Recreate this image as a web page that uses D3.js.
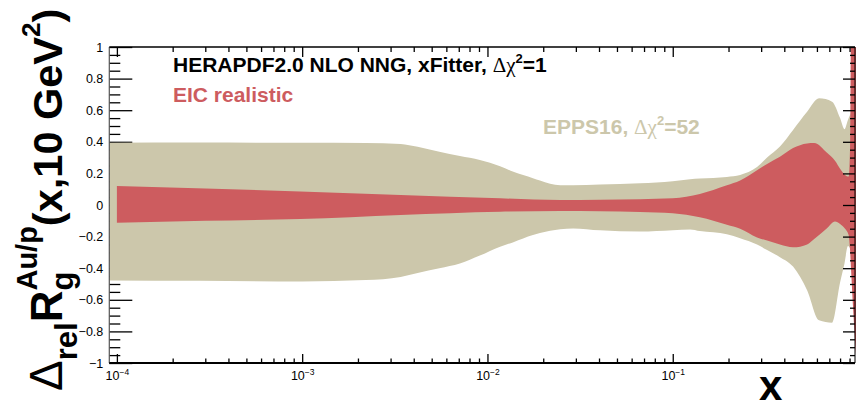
<!DOCTYPE html>
<html><head><meta charset="utf-8">
<script src="https://cdn.jsdelivr.net/npm/d3@7"></script>
<style>
html,body{margin:0;padding:0;background:#fff;}
svg{display:block;font-family:"Liberation Sans",Arial,sans-serif;}
</style></head>
<body>
<svg id="c" width="856" height="405"></svg>
<script>
// ---------------- data ----------------
const eppsX  = [9.0e-5, 2.8e-4, 1.0e-3, 2.2e-3, 3.4e-3, 4.2e-3, 5.5e-3, 7.1e-3, 9.1e-3, 0.0117, 0.0138, 0.0176, 0.0192, 0.0247, 0.029, 0.0405, 0.0666, 0.100, 0.124, 0.140, 0.196, 0.231, 0.285, 0.323, 0.379, 0.446, 0.531, 0.616, 0.724, 0.800, 0.845, 0.883, 0.928, 0.965];
const eppsLo = [-0.478,-0.480,-0.484,-0.475,-0.455,-0.430,-0.400,-0.370,-0.320,-0.264,-0.235,-0.190,-0.178,-0.154,-0.148,-0.160,-0.168,-0.160,-0.155,-0.165,-0.185,-0.210,-0.250,-0.285,-0.330,-0.390,-0.540,-0.730,-0.745,-0.490,-0.370,-0.260,-0.300,-0.350];
const eppsHi = [0.394,0.395,0.394,0.392,0.386,0.368,0.337,0.310,0.285,0.245,0.210,0.170,0.155,0.125,0.125,0.130,0.137,0.150,0.163,0.168,0.178,0.190,0.240,0.300,0.370,0.475,0.590,0.675,0.654,0.550,0.480,0.540,0.590,0.600];

const eicX  = [1.0e-4, 3.0e-4, 9.75e-4, 3.4e-3, 0.0117, 0.0247, 0.0405, 0.0666, 0.100, 0.140, 0.196, 0.231, 0.285, 0.323, 0.379, 0.446, 0.531, 0.580, 0.680, 0.751, 0.800, 0.851, 0.890, 0.905, 0.918, 0.940, 0.975];
const eicHi = [0.120, 0.105, 0.085, 0.063, 0.042, 0.032, 0.034, 0.037, 0.042, 0.070, 0.125, 0.155, 0.220, 0.260, 0.305, 0.360, 0.390, 0.392, 0.330, 0.280, 0.230, 0.190, 0.180, 0.350, 1.300, 1.600, 1.800];
const eicLo = [-0.112,-0.100,-0.089,-0.063,-0.042,-0.038,-0.040,-0.045,-0.052,-0.078,-0.125,-0.150,-0.205,-0.225,-0.250,-0.268,-0.250,-0.215,-0.147,-0.105,-0.120,-0.150,-0.190,-0.280,-0.420,-0.650,-0.950];

const xDomain = [9.1e-5, 0.963];
const yDomain = [-1, 1];
const yMajorTicks = [-1,-0.8,-0.6,-0.4,-0.2,0,0.2,0.4,0.6,0.8,1];
const yTickLabels = ["\u22121","\u22120.8","\u22120.6","\u22120.4","\u22120.2","0","0.2","0.4","0.6","0.8","1"];
const xMajorTicks = [1e-4, 1e-3, 1e-2, 1e-1];
const xTickExps = ["\u22124","\u22123","\u22122","\u22121"];

const colEPPS = "#ccc7ab";
const colEIC  = "#cd5c5f";

// ---------------- layout ----------------
const L = 109.3, R = 855, T = 47, B = 363;
const svg = d3.select("#c");
const x = d3.scaleLog().domain(xDomain).range([L, R]);
const y = d3.scaleLinear().domain(yDomain).range([B, T]);

const xMinor = x.ticks().filter(v => !xMajorTicks.some(m => Math.abs(v/m - 1) < 1e-6));
const yMinor = d3.range(-1, 1.0001, 0.05).map(v => +v.toFixed(2)).filter(v => !yMajorTicks.includes(v));

svg.append("defs").append("clipPath").attr("id","clip")
  .append("rect").attr("x",L).attr("y",T).attr("width",R-L+1).attr("height",B-T);

// left ticks (below bands)
svg.append("g").attr("transform",`translate(${L},0)`)
  .call(d3.axisLeft(y).tickValues(yMinor).tickSize(-11).tickSizeOuter(0).tickFormat(""))
  .call(g => g.select(".domain").remove());
const yAx = svg.append("g").attr("transform",`translate(${L},0)`)
  .call(d3.axisLeft(y).tickValues(yMajorTicks).tickSize(-23).tickSizeOuter(0).tickPadding(6)
        .tickFormat((d,i) => yTickLabels[i]))
  .call(g => g.select(".domain").remove());
yAx.selectAll("text").attr("font-size",12.5).attr("font-family","Liberation Sans, Arial, sans-serif").attr("fill","#000");
svg.selectAll(".tick line").attr("stroke","#000").attr("stroke-width",1.3);

// bands
const bands = svg.append("g").attr("clip-path","url(#clip)");
const areaE = d3.area().x(d => x(d[0])).y0(d => y(d[1])).y1(d => y(d[2])).curve(d3.curveMonotoneX);
bands.append("path").datum(eppsX.map((v,i)=>[v,eppsLo[i],eppsHi[i]]))
  .attr("d", areaE).attr("fill", colEPPS);
bands.append("path").datum(eicX.map((v,i)=>[v,eicLo[i],eicHi[i]]))
  .attr("d", areaE).attr("fill", colEIC);

// right ticks
svg.append("g").attr("transform",`translate(${R},0)`)
  .call(d3.axisRight(y).tickValues(yMinor).tickSize(-5).tickSizeOuter(0).tickFormat(""))
  .call(g => g.select(".domain").remove());
svg.append("g").attr("transform",`translate(${R},0)`)
  .call(d3.axisRight(y).tickValues(yMajorTicks).tickSize(-12).tickSizeOuter(0).tickFormat(""))
  .call(g => g.select(".domain").remove());

// top ticks
svg.append("g").attr("transform",`translate(0,${T})`)
  .call(d3.axisTop(x).tickValues(xMinor).tickSize(-5).tickSizeOuter(0).tickFormat(""))
  .call(g => g.select(".domain").remove());
svg.append("g").attr("transform",`translate(0,${T})`)
  .call(d3.axisTop(x).tickValues(xMajorTicks).tickSize(-10).tickSizeOuter(0).tickFormat(""))
  .call(g => g.select(".domain").remove());

// bottom ticks
svg.append("g").attr("transform",`translate(0,${B})`)
  .call(d3.axisBottom(x).tickValues(xMinor).tickSize(-4.5).tickSizeOuter(0).tickFormat(""))
  .call(g => g.select(".domain").remove());
const xAx = svg.append("g").attr("transform",`translate(0,${B})`)
  .call(d3.axisBottom(x).tickValues(xMajorTicks).tickSize(-9).tickSizeOuter(0).tickFormat(""))
  .call(g => g.select(".domain").remove());
xAx.selectAll(".tick").each(function(d,i){
  const t = d3.select(this).append("text").attr("y",17).attr("text-anchor","middle")
    .attr("font-size",12.5).attr("fill","#000").attr("font-family","Liberation Sans, Arial, sans-serif");
  t.append("tspan").text("10");
  t.append("tspan").attr("dy",-5).attr("font-size",8.5).text(xTickExps[i]);
});
svg.selectAll(".tick line").attr("stroke","#000").attr("stroke-width",1.3);

// frame
svg.append("line").attr("x1",L).attr("x2",L).attr("y1",T).attr("y2",B).attr("stroke","#555").attr("stroke-width",1.2);
svg.append("line").attr("x1",R).attr("x2",R).attr("y1",T).attr("y2",B).attr("stroke","#000").attr("stroke-width",1);
svg.append("line").attr("x1",L).attr("x2",R).attr("y1",T).attr("y2",T).attr("stroke","#000").attr("stroke-width",1.5);
svg.append("line").attr("x1",L).attr("x2",R).attr("y1",B).attr("y2",B).attr("stroke","#000").attr("stroke-width",1.8);

// legend texts
function deltaChi(t, size, rest){
  t.append("tspan").attr("font-family","Liberation Serif, serif").attr("font-weight","normal").text("\u0394\u03c7");
  t.append("tspan").attr("dy",-9).attr("font-size",size*0.62).text("2");
  t.append("tspan").attr("dy",9).text(rest);
}
const t1 = svg.append("text").attr("x",173).attr("y",72).attr("font-size",21).attr("font-weight","bold").attr("fill","#000");
t1.append("tspan").text("HERAPDF2.0 NLO NNG, xFitter, ");
deltaChi(t1, 21, "=1");
svg.append("text").attr("x",173).attr("y",102).attr("font-size",21).attr("font-weight","bold").attr("fill",colEIC).text("EIC realistic");
const t3 = svg.append("text").attr("x",543).attr("y",134).attr("font-size",21).attr("font-weight","bold").attr("fill",colEPPS);
t3.append("tspan").text("EPPS16, ");
deltaChi(t3, 21, "=52");

// x title
svg.append("text").attr("x",759).attr("y",400).attr("font-size",42).attr("font-weight","bold").attr("fill","#000").text("x");

// y title (rotated), pieces laid out by measured widths
const pieces = [
  {t:"\u0394", size:46, w:"normal", s:0, fam:"Liberation Sans, Arial, sans-serif"},
  {t:"rel", size:31, w:"bold", s:15},
  {t:"R", size:44, w:"bold", s:0},
  {t:"g", size:31, w:"bold", s:11},
  {t:"Au/p", size:29, w:"bold", s:-25, stack:true},
  {t:"(x,10 GeV", size:41.5, w:"bold", s:0},
  {t:"2", size:26, w:"bold", s:-22},
  {t:")", size:41.5, w:"bold", s:0}
];
const yt = svg.append("g").attr("transform","translate(62,391) rotate(-90)");
let cur = 0, lastStart = 0, lastEnd = 0;
pieces.forEach(p => {
  const start = p.stack ? lastStart : cur;
  const el = yt.append("text").attr("x",start).attr("y",p.s).attr("font-size",p.size)
    .attr("font-weight",p.w).attr("fill","#000")
    .attr("font-family", p.fam || "Liberation Sans, Arial, sans-serif").text(p.t);
  const w = el.node().getComputedTextLength();
  if (p.stack) { cur = Math.max(lastEnd, start + w); }
  else { lastStart = start; lastEnd = start + w; cur = start + w; }
});
</script>
</body></html>
